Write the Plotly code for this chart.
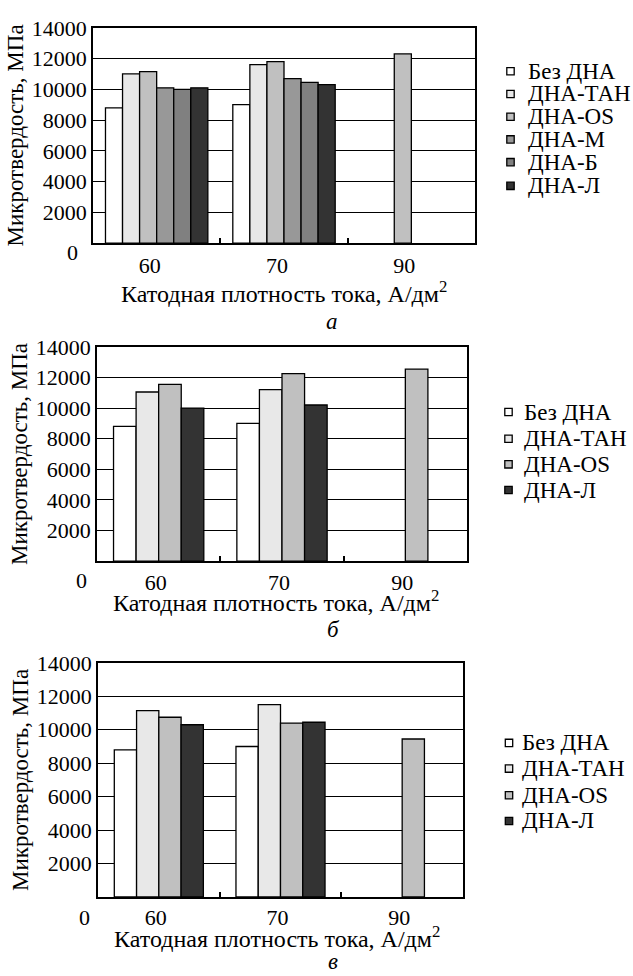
import plotly.graph_objects as go

# ---------------- data ----------------
categories = ["60", "70", "90"]

names_a = ["Без ДНА", "ДНА-ТАН", "ДНА-OS", "ДНА-М", "ДНА-Б", "ДНА-Л"]
a_bez = [8800, 9000, None]
a_tan = [11000, 11600, None]
a_os = [11150, 11800, 12300]
a_m = [10100, 10700, None]
a_b = [10000, 10450, None]
a_l = [10100, 10300, None]

names_bc = ["Без ДНА", "ДНА-ТАН", "ДНА-OS", "ДНА-Л"]
b_bez = [8800, 9000, None]
b_tan = [11050, 11200, None]
b_os = [11550, 12250, 12550]
b_l = [10000, 10200, None]

c_bez = [8800, 9000, None]
c_tan = [11150, 11500, None]
c_os = [10750, 10400, 9450]
c_l = [10300, 10450, None]

y_ticks = [2000, 4000, 6000, 8000, 10000, 12000, 14000]
y_tick_labels = ["2000", "4000", "6000", "8000", "10000", "12000", "14000"]
y_title = "Микротвердость, МПа"
x_title = "Катодная плотность тока, А/дм<sup>2</sup>"
captions = ["а", "б", "в"]

# ---------------- style ----------------
W, H = 633, 976
FONT = "Liberation Serif"
colors = {"Без ДНА": "#ffffff", "ДНА-ТАН": "#e8e8e8", "ДНА-OS": "#c0c0c0",
          "ДНА-М": "#989898", "ДНА-Б": "#808080", "ДНА-Л": "#333333"}


def px(x):
    return x / W


def py(y):
    return 1 - y / H


panels = [
    dict(names=names_a, values=[a_bez, a_tan, a_os, a_m, a_b, a_l],
         dx=(93, 475), dy=(16, 234), barw=0.134, tshift=-7, tstand=2,
         xt_y=283, xt_dx=0, zero=(72, 243), cap=(332, 313),
         leg_sq=510.5, leg_tx=526, leg_y=[60, 83, 106, 129, 152, 176]),
    dict(names=names_bc, values=[b_bez, b_tan, b_os, b_l],
         dx=(97, 467), dy=(339, 556), barw=0.183, tshift=-3, tstand=1,
         xt_y=596, xt_dx=-6, zero=(81, 576), cap=(333, 625),
         leg_sq=508.5, leg_tx=522, leg_y=[405, 432, 458, 484]),
    dict(names=names_bc, values=[c_bez, c_tan, c_os, c_l],
         dx=(98, 463), dy=(659, 896), barw=0.183, tshift=-3, tstand=0,
         xt_y=937, xt_dx=-4, zero=(84, 917), cap=(333, 961),
         leg_sq=509, leg_tx=520, leg_y=[740, 766, 793, 819]),
]

fig = go.Figure()
annotations = []
shapes = []

for k, p in enumerate(panels):
    sfx = "" if k == 0 else str(k + 1)
    xa, ya = "x" + sfx, "y" + sfx
    n = len(p["names"])
    w = p["barw"]
    for i, (name, vals) in enumerate(zip(p["names"], p["values"])):
        fig.add_trace(go.Bar(
            x=categories, y=vals, name=name, xaxis=xa, yaxis=ya,
            width=w, offset=-n * w / 2 + i * w,
            marker=dict(color=colors[name], line=dict(color="black", width=1.3)),
            showlegend=False,
        ))
    fig.layout["xaxis" + sfx] = dict(
        domain=[px(p["dx"][0]), px(p["dx"][1])], anchor=ya,
        type="category", categoryorder="array", categoryarray=categories,
        range=[-0.5, 2.5], showgrid=False, zeroline=False,
        showline=True, mirror=True, linecolor="black", linewidth=1.6,
        ticks="inside", tickson="boundaries", ticklen=5, tickwidth=1.5,
        tickcolor="black", ticklabelshift=p["tshift"], ticklabelstandoff=p["tstand"],
        tickfont=dict(family=FONT, size=22, color="black"),
    )
    fig.layout["yaxis" + sfx] = dict(
        domain=[py(p["dy"][1]), py(p["dy"][0])], anchor=xa,
        range=[0, 14000], tickvals=y_ticks, ticktext=y_tick_labels,
        showgrid=True, gridcolor="black",
        gridwidth=1, zeroline=False, showline=True, mirror=True,
        linecolor="black", linewidth=1.6, ticks="",
        tickfont=dict(family=FONT, size=22, color="black"),
        title=dict(text=y_title, font=dict(family=FONT, size=23, color="black"),
                   standoff=2),
    )
    # x-axis title
    annotations.append(dict(
        text=x_title, xref="paper", yref="paper",
        x=px((p["dx"][0] + p["dx"][1]) / 2 + p["xt_dx"]), y=py(p["xt_y"]),
        xanchor="center", yanchor="middle", showarrow=False,
        font=dict(family=FONT, size=24, color="black")))
    # zero label of the y axis
    annotations.append(dict(
        text="0", xref="paper", yref="paper", x=px(p["zero"][0]), y=py(p["zero"][1]),
        xanchor="center", yanchor="middle", showarrow=False,
        font=dict(family=FONT, size=22, color="black")))
    # panel caption
    annotations.append(dict(
        text="<i>" + captions[k] + "</i>", xref="paper", yref="paper",
        x=px(p["cap"][0]), y=py(p["cap"][1]), xanchor="center", yanchor="middle",
        showarrow=False, font=dict(family=FONT, size=23, color="black")))
    # legend
    s = 3.7
    for name, yy in zip(p["names"], p["leg_y"]):
        shapes.append(dict(
            type="rect", xref="paper", yref="paper",
            x0=px(p["leg_sq"] - s), x1=px(p["leg_sq"] + s),
            y0=py(yy + s), y1=py(yy - s),
            fillcolor=colors[name], line=dict(color="black", width=1.3)))
        annotations.append(dict(
            text=name, xref="paper", yref="paper", x=px(p["leg_tx"]), y=py(yy),
            xanchor="left", yanchor="middle", showarrow=False,
            font=dict(family=FONT, size=23, color="black")))

fig.update_layout(
    width=W, height=H, margin=dict(l=0, r=0, t=0, b=0),
    barmode="overlay", plot_bgcolor="white", paper_bgcolor="white",
    annotations=annotations, shapes=shapes, showlegend=False,
    font=dict(family=FONT, color="black"),
)

fig.write_html("out.html")
